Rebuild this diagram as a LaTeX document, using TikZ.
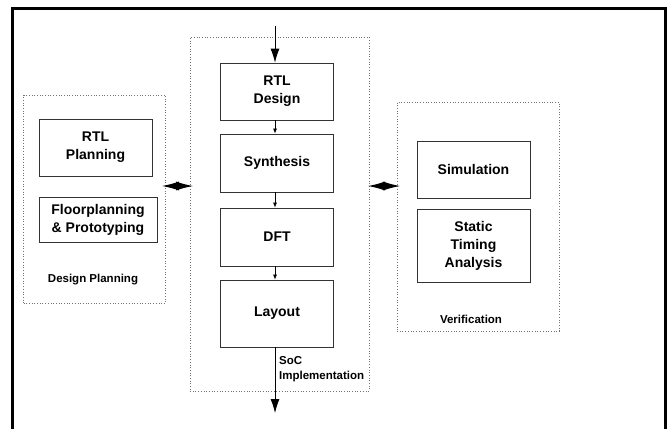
\documentclass[tikz,border=0pt]{standalone}
\usepackage{fontspec}
\setmainfont{Liberation Sans}
\usetikzlibrary{arrows.meta}

\begin{document}
\begin{tikzpicture}[x=1pt,y=-1pt,
    stage/.style={draw=black!80, line width=0.8pt, align=center,
        font=\bfseries\fontsize{14}{18}\selectfont, inner sep=0pt},
    group/.style={draw=black!55, dotted, line width=0.7pt, inner sep=0pt},
    grouplabel/.style={font=\bfseries\fontsize{11.5}{15}\selectfont, inner sep=0pt},
    flow/.style={-{Latex[length=5pt,width=4pt]}, line width=0.7pt},
    bigflow/.style={-{Latex[length=14pt,width=9pt]}, line width=0.8pt},
    link/.style={{Latex[length=17pt,width=9pt]}-{Latex[length=17pt,width=9pt]}, line width=1pt}
]
\useasboundingbox (0,0) rectangle (668,429);
% Outer frame
\draw[line width=3pt] (12.5,429) -- (12.5,8.5) -- (665.5,8.5) -- (665.5,429);
% Groups
\node[group, minimum width=142pt, minimum height=208pt] (plan) at (94.5,199){};
\node[group, minimum width=179pt, minimum height=354pt] (impl) at (279.5,214){};
\node[group, minimum width=162pt, minimum height=229pt] (verif) at (478,216.5){};
% Design planning
\node[stage, minimum width=113pt, minimum height=57pt] (rtlp) at (95.5,147.5){RTL\\Planning};
\node[stage, minimum width=118pt, minimum height=45pt] (floor) at (98,219.5){Floorplanning\\\& Prototyping};
\node[grouplabel] (planlbl) at (93,280){Design Planning};
% SoC implementation
\node[stage, minimum width=113pt, minimum height=57pt] (rtld) at (277,91.5){RTL\\Design};
\node[stage, minimum width=113pt, minimum height=58pt] (synth) at (277,163){Synthesis};
\node[stage, minimum width=113pt, minimum height=58pt] (dft) at (277,237){DFT};
\node[stage, minimum width=113pt, minimum height=67pt] (layout) at (277,313.5){Layout};
\node[grouplabel, anchor=north west, align=left] (impllbl) at (279,356){SoC\\Implementation};
% Verification
\node[stage, minimum width=113pt, minimum height=57pt] (sim) at (473.5,169.5){Simulation};
\node[stage, minimum width=113pt, minimum height=73pt] (sta) at (473.5,245.5){Static\\Timing\\Analysis};
\node[grouplabel] (veriflbl) at (471,319){Verification};
% Flow
\coordinate (in) at (275,26);
\coordinate (out) at (275,413);
\draw[bigflow] (in) -- (in |- rtld.north);
\draw[flow] (rtld.south -| in) -- (synth.north -| in);
\draw[flow] (synth.south -| in) -- (dft.north -| in);
\draw[flow] (dft.south -| in) -- (layout.north -| in);
\draw[bigflow] (layout.south -| in) -- (out);
% Links between groups
\coordinate (la) at (162,186);
\coordinate (lb) at (193,186);
\coordinate (ra) at (368,186);
\coordinate (rb) at (400,186);
\draw[link] (la) -- (lb);
\draw[link] (ra) -- (rb);
\end{tikzpicture}
\end{document}
